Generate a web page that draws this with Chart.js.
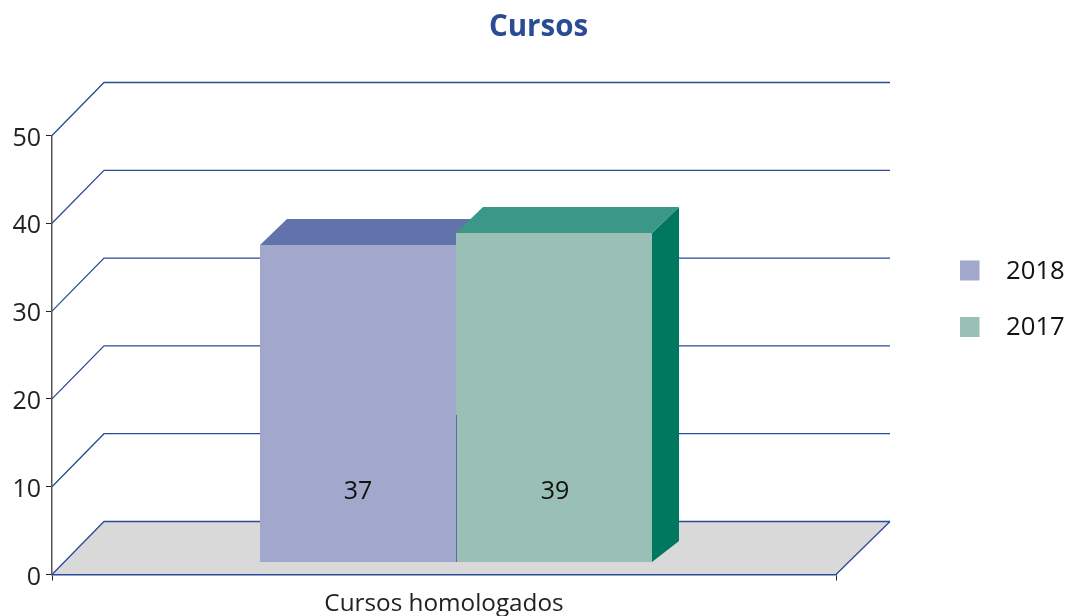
<!DOCTYPE html>
<html><head><meta charset="utf-8">
<style>html,body{margin:0;padding:0;background:#fff}canvas{display:block}</style>
<script src="https://cdn.jsdelivr.net/npm/chart.js@4"></script>
</head><body><canvas id="c" width="1067" height="616"></canvas>
<script>
const categories = ["Cursos homologados"];
const seriesNames = ["2018", "2017"];
const values2018 = [37];
const values2017 = [39];
const yTickValues = [0, 10, 20, 30, 40, 50];
const chartTitle = "Cursos";

const FONT = '"Open Sans"';
const BLUE = '#2a4b96';
const faces = [
  {front:'#a2a8cc', top:'#6272aa', side:'#4d5a96'},
  {front:'#9abfb5', top:'#3b9787', side:'#00775f'}
];
const WALL_X = 52, WALL_Y = 53, BAR_DX = 12, DEPTH_X = 27, DEPTH_TOP = 26, DEPTH_BOTTOM = 21;
// hidden axis for the bars: 6 px per unit, as the drawn bars of the source are spaced
const BAR_PX = 6, BAR_TOP_REF = 245, BAR_VAL_REF = 37, BAR_FLOOR_PX = 562, AREA_TOP = 135.5, AREA_BOTTOM = 574.5;
const barAxisValue = px => BAR_VAL_REF + (BAR_TOP_REF - px) / BAR_PX;

const scene = {
  id:'scene',
  beforeDraw(chart){
    const c = chart.ctx, s = chart.scales.y, a = chart.chartArea;
    const y0 = s.getPixelForValue(0);
    c.save();
    c.fillStyle = '#d9d9d9';
    c.beginPath();
    c.moveTo(a.left,y0); c.lineTo(a.left+WALL_X,y0-WALL_Y);
    c.lineTo(a.right+WALL_X+2,y0-WALL_Y); c.lineTo(a.right,y0);
    c.closePath(); c.fill();
    c.strokeStyle = BLUE; c.lineWidth = 1.3;
    yTickValues.forEach(v=>{
      const y = s.getPixelForValue(v);
      c.beginPath();
      c.moveTo(a.left,y); c.lineTo(a.left+WALL_X,y-WALL_Y); c.lineTo(a.right+WALL_X+2,y-WALL_Y);
      c.stroke();
    });
    c.beginPath();
    c.moveTo(a.right,y0); c.lineTo(a.right+WALL_X+2,y0-WALL_Y);
    c.stroke();
    c.restore();
  },
  beforeDatasetsDraw(chart){
    const c = chart.ctx;
    c.save();
    c.translate(BAR_DX,0);
    const last = chart.data.datasets.length-1;
    chart.data.datasets.forEach((d,i)=>{
      chart.getDatasetMeta(i).data.forEach(b=>{
        const L = b.x-b.width/2, R = b.x+b.width/2, T = b.y, B = b.base;
        if(i===last){
          c.fillStyle = faces[i].side;
          c.beginPath();
          c.moveTo(R,T); c.lineTo(R+DEPTH_X,T-DEPTH_TOP); c.lineTo(R+DEPTH_X,B-DEPTH_BOTTOM); c.lineTo(R,B);
          c.closePath(); c.fill();
        }
        c.fillStyle = faces[i].top;
        c.beginPath();
        c.moveTo(L,T); c.lineTo(L+DEPTH_X,T-DEPTH_TOP); c.lineTo(R+DEPTH_X,T-DEPTH_TOP); c.lineTo(R,T);
        c.closePath(); c.fill();
      });
    });
  },
  afterDatasetsDraw(chart){
    const c = chart.ctx;
    c.restore();
    c.save();
    const first = chart.getDatasetMeta(0).data[0];
    c.strokeStyle = '#5a68a8'; c.lineWidth = 1;
    c.beginPath();
    c.moveTo(first.x+first.width/2+BAR_DX+0.5, first.base);
    c.lineTo(first.x+first.width/2+BAR_DX+0.5, first.base-147);
    c.stroke();
    c.font = '25px '+FONT; c.fillStyle = '#111'; c.textAlign='center'; c.textBaseline='middle';
    chart.data.datasets.forEach((d,i)=>{
      chart.getDatasetMeta(i).data.forEach((b,j)=>{
        c.fillText(String(d.data[j]), b.x+BAR_DX+i, b.base-70);
      });
    });
    c.restore();
  },
  afterDraw(chart){
    const c = chart.ctx;
    c.save();
    c.font = 'bold 29.5px '+FONT; c.fillStyle = BLUE; c.textAlign='center'; c.textBaseline='middle';
    c.fillText(chartTitle, 538.5, 27.5);
    c.font = '25.7px '+FONT; c.textAlign='left';
    chart.data.datasets.forEach((d,i)=>{
      const y = 270.5 + i*56.5;
      c.fillStyle = d.backgroundColor;
      c.fillRect(960, y-10, 19.5, 20);
      c.fillStyle = '#111';
      c.fillText(d.label, 1006, y+1);
    });
    c.restore();
  }
};

new Chart(document.getElementById('c'),{
  type:'bar',
  plugins:[scene],
  data:{
    labels:categories,
    datasets:[
      {label:seriesNames[0], data:values2018, backgroundColor:faces[0].front, yAxisID:'yBars', borderWidth:0, base:barAxisValue(BAR_FLOOR_PX)},
      {label:seriesNames[1], data:values2017, backgroundColor:faces[1].front, yAxisID:'yBars', borderWidth:0, base:barAxisValue(BAR_FLOOR_PX)}
    ]
  },
  options:{
    responsive:false, animation:false, devicePixelRatio:1,
    layout:{padding:{left:0,right:231,top:AREA_TOP,bottom:0}},
    plugins:{legend:{display:false},title:{display:false},tooltip:{enabled:false}},
    datasets:{bar:{barPercentage:1,categoryPercentage:0.5}},
    scales:{
      x:{
        afterFit(s){s.height=616-AREA_BOTTOM;},
        grid:{drawOnChartArea:false,tickLength:6,tickColor:'#222',tickWidth:1},
        border:{color:BLUE,width:1.5},
        ticks:{font:{family:FONT,size:24.3},color:'#222',padding:9,maxRotation:0}
      },
      y:{
        min:0,max:50,
        afterFit(s){s.width=52;},
        grid:{drawOnChartArea:false,tickLength:6,tickColor:'#222',tickWidth:1},
        border:{color:'#555',width:1.5},
        ticks:{stepSize:10,font:{family:FONT,size:25},color:'#222',padding:5,labelOffset:3}
      },
      yBars:{
        display:false,
        min:barAxisValue(AREA_BOTTOM),max:barAxisValue(AREA_TOP)
      }
    }
  }
});
</script></body></html>
